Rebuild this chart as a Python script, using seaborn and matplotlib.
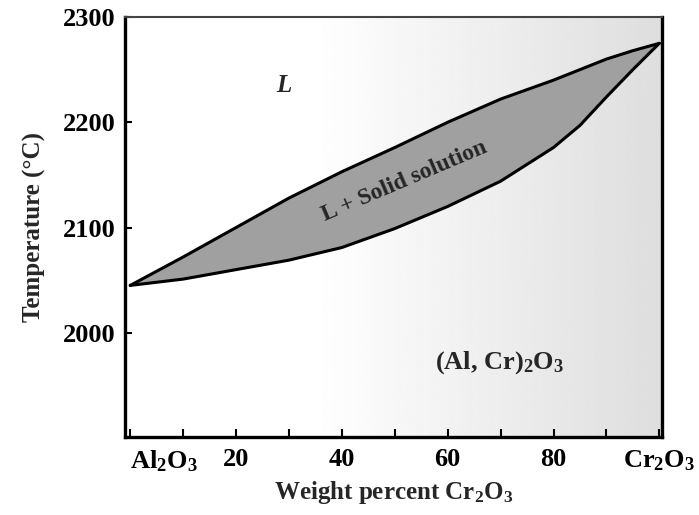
import numpy as np
import pandas as pd
import matplotlib
matplotlib.use("Agg")
import matplotlib.pyplot as plt
import seaborn as sns

# Data (wt% Cr2O3 vs temperature, °C)
composition = [0, 10, 20, 30, 40, 50, 60, 70, 80, 85, 90, 95, 100]
liquidus = [2045, 2072, 2100, 2128, 2153, 2176, 2200, 2222, 2240, 2250, 2260, 2268, 2275]
solidus = [2045, 2051, 2060, 2069, 2081, 2099, 2120, 2144, 2176, 2197, 2224, 2250, 2275]

x_ticks = [0, 20, 40, 60, 80, 100]
x_tick_labels = [r"Al$_2$O$_3$", "20", "40", "60", "80", r"Cr$_2$O$_3$"]
x_minor_ticks = [10, 30, 50, 70, 90]
y_ticks = [2000, 2100, 2200, 2300]

df = pd.DataFrame({"composition": composition, "liquidus": liquidus, "solidus": solidus})

sns.set_theme(style="ticks")
plt.rcParams["font.family"] = ["Liberation Serif", "DejaVu Serif"]
plt.rcParams["mathtext.fontset"] = "custom"
plt.rcParams["mathtext.rm"] = "Liberation Serif:bold"
plt.rcParams["mathtext.it"] = "Liberation Serif:bold"
plt.rcParams["mathtext.bf"] = "Liberation Serif:bold"

fig = plt.figure(figsize=(6.99, 5.15), dpi=100)
ax = fig.add_axes([0.1788, 0.1515, 0.947 - 0.1788, 0.967 - 0.1515])

# faint grey tone of the scanned background (slightly darker towards the right)
gx = np.linspace(0, 1, 200)
shade = np.clip((gx - 0.35) / 0.65, 0, 1) * 0.13
ax.imshow((1 - shade)[np.newaxis, :], cmap="gray", vmin=0, vmax=1,
          extent=[0, 1, 0, 1], transform=ax.transAxes, aspect="auto",
          origin="lower", zorder=0, interpolation="bilinear")

ax.fill_between(df["composition"], df["solidus"], df["liquidus"],
                color="#a0a0a0", linewidth=0, zorder=1)
sns.lineplot(data=df, x="composition", y="liquidus", ax=ax, color="black",
             linewidth=2.2, zorder=3)
sns.lineplot(data=df, x="composition", y="solidus", ax=ax, color="black",
             linewidth=2.2, zorder=3)

ax.set_xlim(-1, 100.5)
ax.set_ylim(1901, 2300)

ax.set_xticks(x_ticks)
ax.set_xticklabels(x_tick_labels)
ax.set_xticks(x_minor_ticks, minor=True)
ax.set_yticks(y_ticks)
ax.tick_params(axis="both", which="both", direction="in", colors="black",
               labelsize=19, width=1.5)
ax.tick_params(axis="x", which="both", length=6, pad=8)
ax.tick_params(axis="y", which="major", length=5, pad=7)
for lab in ax.get_xticklabels() + ax.get_yticklabels():
    lab.set_fontweight("bold")
ax.get_xticklabels()[0].set_horizontalalignment("left")

for side in ["left", "right", "bottom"]:
    ax.spines[side].set_linewidth(2.4)
    ax.spines[side].set_color("black")
ax.spines["top"].set_visible(True)
ax.spines["top"].set_linewidth(1.5)
ax.spines["top"].set_color("#444444")
ax.spines["right"].set_visible(True)

ax.set_xlabel(r"Weight percent Cr$_2$O$_3$", fontsize=18, fontweight="bold", labelpad=4)
ax.set_ylabel("Temperature (°C)", fontsize=18, fontweight="bold", labelpad=12)

ax.text(29.0, 2235, "L", fontsize=18, fontweight="bold", fontstyle="italic",
        ha="center", va="center", zorder=4)
ax.text(51.8, 2144, "L + Solid solution", fontsize=17, fontweight="bold",
        rotation=23, rotation_mode="anchor", ha="center", va="center", zorder=4)
ax.text(69.8, 1972, r"(Al, Cr)$_2$O$_3$", fontsize=19, fontweight="bold",
        ha="center", va="center", zorder=4)

fig.savefig("out.png", dpi=100)
